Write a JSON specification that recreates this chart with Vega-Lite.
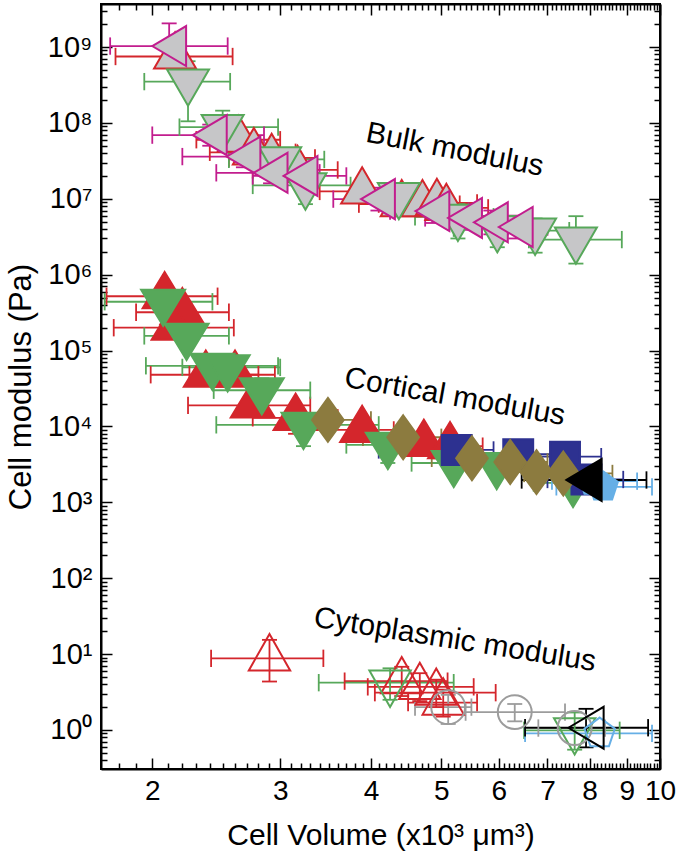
{
"$schema": "https://vega.github.io/schema/vega-lite/v6.json",
"width": 559, "height": 765,
"autosize": {"type": "none"},
"padding": {"left": 101, "top": 4, "right": 17, "bottom": 85},
"background": "white",
"config": {"view": {"stroke": "black", "strokeWidth": 2}, "font": "Liberation Sans"},
"datasets": {
"pts": [
{"s":"bulk_red","x":2.15,"xlo":1.78,"xhi":2.58,"y":7.5e8,"ylo":5.6e8,"yhi":1.0e9},
{"s":"bulk_red","x":2.63,"xlo":2.3,"xhi":3.0,"y":6.0e7,"ylo":4.6e7,"yhi":7.8e7},
{"s":"bulk_red","x":2.76,"xlo":2.4,"xhi":3.15,"y":4.1e7},
{"s":"bulk_red","x":2.92,"xlo":2.55,"xhi":3.35,"y":3.45e7,"ylo":2.6e7,"yhi":4.5e7},
{"s":"bulk_red","x":3.17,"xlo":2.75,"xhi":3.6,"y":2.4e7,"ylo":1.8e7,"yhi":3.1e7},
{"s":"bulk_red","x":3.89,"xlo":3.4,"xhi":4.45,"y":1.25e7,"ylo":9.5e6,"yhi":1.65e7},
{"s":"bulk_red","x":4.41,"xlo":3.85,"xhi":5.0,"y":8.5e6,"ylo":6.5e6,"yhi":1.1e7},
{"s":"bulk_red","x":4.71,"xlo":4.1,"xhi":5.3,"y":8.5e6},
{"s":"bulk_red","x":4.93,"xlo":4.3,"xhi":5.6,"y":8.8e6,"ylo":6.8e6,"yhi":1.15e7},
{"s":"bulk_red","x":5.08,"xlo":4.4,"xhi":5.8,"y":7.6e6},
{"s":"bulk_green","x":2.24,"xlo":1.95,"xhi":2.56,"y":3.5e8,"ylo":1.05e8,"yhi":6.5e8},
{"s":"bulk_green","x":2.50,"xlo":2.18,"xhi":2.98,"y":8.8e7,"ylo":5.5e7,"yhi":1.45e8},
{"s":"bulk_green","x":3.0,"xlo":2.55,"xhi":3.45,"y":3.3e7,"ylo":2.3e7,"yhi":4.5e7},
{"s":"bulk_green","x":3.25,"xlo":2.75,"xhi":3.75,"y":1.5e7,"ylo":8.5e6,"yhi":2.2e7},
{"s":"bulk_green","x":4.37,"xlo":3.8,"xhi":5.0,"y":1.12e7,"ylo":7.5e6,"yhi":1.6e7},
{"s":"bulk_green","x":5.27,"xlo":4.6,"xhi":5.9,"y":5.8e6,"ylo":3.0e6,"yhi":8.5e6},
{"s":"bulk_green","x":5.97,"xlo":5.2,"xhi":6.7,"y":4.1e6,"ylo":2.3e6,"yhi":6.2e6},
{"s":"bulk_green","x":6.73,"xlo":5.9,"xhi":7.5,"y":3.8e6,"ylo":1.95e6,"yhi":5.5e6},
{"s":"bulk_green","x":7.66,"xlo":6.6,"xhi":8.86,"y":2.9e6,"ylo":1.4e6,"yhi":5.9e6},
{"s":"bulk_mag","x":2.11,"xlo":1.75,"xhi":2.54,"y":1.03e9,"ylo":6.5e8,"yhi":2.05e9},
{"s":"bulk_mag","x":2.40,"xlo":2.0,"xhi":2.85,"y":6.9e7,"ylo":5.0e7,"yhi":9.5e7},
{"s":"bulk_mag","x":2.67,"xlo":2.2,"xhi":3.1,"y":3.6e7,"ylo":2.6e7,"yhi":5.0e7},
{"s":"bulk_mag","x":2.91,"xlo":2.45,"xhi":3.4,"y":2.2e7,"ylo":1.6e7,"yhi":3.0e7},
{"s":"bulk_mag","x":3.20,"xlo":2.75,"xhi":3.7,"y":2.0e7,"ylo":1.4e7,"yhi":2.7e7},
{"s":"bulk_mag","x":4.09,"xlo":3.55,"xhi":4.65,"y":9.9e6,"ylo":7.0e6,"yhi":1.4e7},
{"s":"bulk_mag","x":4.86,"xlo":4.25,"xhi":5.45,"y":6.9e6,"ylo":4.8e6,"yhi":9.8e6},
{"s":"bulk_mag","x":5.39,"xlo":4.75,"xhi":6.0,"y":5.6e6,"ylo":3.9e6,"yhi":7.9e6},
{"s":"bulk_mag","x":5.85,"xlo":5.2,"xhi":6.5,"y":4.9e6,"ylo":3.4e6,"yhi":7.0e6},
{"s":"bulk_mag","x":6.33,"xlo":5.65,"xhi":7.0,"y":4.25e6,"ylo":3.0e6,"yhi":6.0e6},
{"s":"cort_red","x":2.08,"xlo":1.73,"xhi":2.46,"y":5.2e5},
{"s":"cort_red","x":2.20,"xlo":1.9,"xhi":2.55,"y":3.2e5},
{"s":"cort_red","x":2.14,"xlo":1.77,"xhi":2.59,"y":2.0e5},
{"s":"cort_red","x":2.37,"xlo":1.99,"xhi":2.8,"y":4.8e4},
{"s":"cort_red","x":2.60,"xlo":2.25,"xhi":2.95,"y":4.8e4},
{"s":"cort_red","x":2.75,"xlo":2.24,"xhi":3.3,"y":1.9e4},
{"s":"cort_red","x":3.15,"xlo":2.75,"xhi":3.6,"y":1.3e4,"ylo":8.0e3,"yhi":1.8e4},
{"s":"cort_red","x":3.89,"xlo":3.5,"xhi":4.3,"y":9.0e3,"ylo":6.5e3,"yhi":1.2e4},
{"s":"cort_red","x":4.73,"xlo":4.2,"xhi":5.2,"y":5.9e3,"ylo":4.3e3,"yhi":8.0e3},
{"s":"cort_red","x":5.14,"xlo":4.6,"xhi":5.7,"y":5.5e3,"ylo":4.0e3,"yhi":7.5e3},
{"s":"cort_green","x":2.07,"xlo":1.72,"xhi":2.42,"y":4.4e5},
{"s":"cort_green","x":2.23,"xlo":1.95,"xhi":2.55,"y":1.56e5},
{"s":"cort_green","x":2.42,"xlo":1.96,"xhi":2.98,"y":6.3e4},
{"s":"cort_green","x":2.54,"xlo":2.2,"xhi":3.0,"y":6.0e4},
{"s":"cort_green","x":2.83,"xlo":2.43,"xhi":3.3,"y":3.0e4,"ylo":1.5e4,"yhi":4.3e4},
{"s":"cort_green","x":3.23,"xlo":2.45,"xhi":4.1,"y":1.05e4,"ylo":5.5e3,"yhi":1.5e4},
{"s":"cort_green","x":4.22,"xlo":3.7,"xhi":4.8,"y":5.7e3,"ylo":3.3e3,"yhi":7.5e3},
{"s":"cort_green","x":5.2,"xlo":4.55,"xhi":5.85,"y":3.3e3,"ylo":2.4e3,"yhi":4.4e3},
{"s":"cort_green","x":5.96,"xlo":5.25,"xhi":6.7,"y":3.1e3,"ylo":2.2e3,"yhi":4.2e3},
{"s":"cort_green","x":7.59,"xlo":6.7,"xhi":8.5,"y":1.8e3,"ylo":1.4e3,"yhi":2.5e3},
{"s":"cort_navy","x":5.25,"xlo":4.1,"xhi":5.9,"y":4.9e3},
{"s":"cort_navy","x":6.38,"xlo":5.6,"xhi":7.2,"y":4.3e3},
{"s":"cort_navy","x":7.40,"xlo":6.5,"xhi":8.3,"y":4.0e3,"ylo":3.0e3,"yhi":5.0e3},
{"s":"cort_navy","x":7.92,"xlo":7.0,"xhi":8.9,"y":2.0e3,"ylo":1.5e3,"yhi":2.6e3},
{"s":"cort_lblue","x":8.1,"xlo":7.1,"xhi":9.3,"y":1.9e3},
{"s":"cort_lblue","x":8.35,"xlo":7.2,"xhi":9.75,"y":1.6e3},
{"s":"cort_olive","x":3.49,"xlo":3.05,"xhi":4.0,"y":1.22e4,"ylo":9.0e3,"yhi":1.55e4},
{"s":"cort_olive","x":4.43,"xlo":3.9,"xhi":5.0,"y":7.2e3,"ylo":5.0e3,"yhi":1.0e4},
{"s":"cort_olive","x":5.51,"xlo":4.85,"xhi":6.2,"y":3.8e3},
{"s":"cort_olive","x":6.22,"xlo":5.5,"xhi":7.0,"y":3.4e3},
{"s":"cort_olive","x":6.76,"xlo":6.0,"xhi":7.6,"y":2.5e3},
{"s":"cort_olive","x":7.36,"xlo":6.5,"xhi":8.6,"y":2.4e3,"ylo":1.8e3,"yhi":3.2e3},
{"s":"cort_black","x":7.86,"xlo":6.45,"xhi":9.58,"y":1.97e3,"ylo":1.45e3,"yhi":2.7e3},
{"s":"cyto_red","x":2.90,"xlo":2.41,"xhi":3.44,"y":8.8,"ylo":4.35,"yhi":15.4},
{"s":"cyto_red","x":4.41,"xlo":3.68,"xhi":5.1,"y":4.4,"ylo":2.8,"yhi":6.8},
{"s":"cyto_red","x":4.67,"xlo":3.96,"xhi":5.54,"y":3.7,"ylo":2.4,"yhi":5.6},
{"s":"cyto_red","x":4.92,"xlo":4.05,"xhi":5.94,"y":3.1,"ylo":2.0,"yhi":4.6},
{"s":"cyto_red","x":5.03,"xlo":4.5,"xhi":5.6,"y":2.3,"ylo":1.5,"yhi":3.4},
{"s":"cyto_green","x":4.25,"xlo":3.39,"xhi":5.2,"y":4.2,"ylo":2.5,"yhi":6.5},
{"s":"cyto_green","x":7.63,"xlo":6.5,"xhi":8.8,"y":0.99,"ylo":0.55,"yhi":1.7},
{"s":"cyto_gray","x":5.11,"xlo":4.6,"xhi":5.5,"y":2.0,"ylo":1.2,"yhi":2.9},
{"s":"cyto_gray","x":6.31,"xlo":5.4,"xhi":7.4,"y":1.72,"ylo":1.3,"yhi":2.2},
{"s":"cyto_gray","x":7.63,"xlo":6.8,"xhi":8.4,"y":1.06},
{"s":"cyto_lblue","x":8.26,"xlo":6.52,"xhi":9.75,"y":0.90},
{"s":"cyto_black","x":7.91,"xlo":6.52,"xhi":9.63,"y":1.07,"ylo":0.59,"yhi":1.9}
]
},
"resolve": {"axis": {"x": "independent", "y": "independent"}},
"layer": [
{
"data": {"name": "pts"},
"mark": {"type": "rule", "strokeWidth": 1.8},
"encoding": {
"x": {"field": "xlo", "type": "quantitative",
 "scale": {"type": "log", "domain": [1.70, 10], "nice": false},
 "axis": {"orient": "bottom", "grid": false,
  "values": [1.8,1.9,2,2.1,2.2,2.3,2.4,2.5,2.6,2.7,2.8,2.9,3,3.1,3.2,3.3,3.4,3.5,3.6,3.7,3.8,3.9,4,4.1,4.2,4.3,4.4,4.5,4.6,4.7,4.8,4.9,5,5.1,5.2,5.3,5.4,5.5,5.6,5.7,5.8,5.9,6,6.1,6.2,6.3,6.4,6.5,6.6,6.7,6.8,6.9,7,7.1,7.2,7.3,7.4,7.5,7.6,7.7,7.8,7.9,8,8.1,8.2,8.3,8.4,8.5,8.6,8.7,8.8,8.9,9,9.1,9.2,9.3,9.4,9.5,9.6,9.7,9.8,9.9,10],
  "labelExpr": "abs(datum.value - round(datum.value)) < 0.001 ? format(datum.value, 'd') : ''",
  "tickSize": {"condition": {"test": "abs(datum.value - round(datum.value)) < 0.001", "value": -11}, "value": -6},
  "tickColor": "black", "tickWidth": 1.5,
  "domainColor": "black", "domainWidth": 2,
  "labelFont": "Liberation Sans", "labelFontSize": 28, "labelColor": "black", "labelPadding": 19,
  "labelOverlap": false, "labelFlush": false, "labelBound": false,
  "title": "Cell Volume (x10³ μm³)", "titleFont": "Liberation Sans", "titleFontSize": 30, "titleFontWeight": "normal", "titleColor": "black", "titlePadding": 10}},
"x2": {"field": "xhi"},
"y": {"field": "y", "type": "quantitative",
 "scale": {"type": "log", "domain": [0.306, 3.69e9], "nice": false},
 "axis": {"orient": "left", "grid": false,
  "values": [0.4,0.5,0.6,0.7,0.8,0.9,1,2,3,4,5,6,7,8,9,10,20,30,40,50,60,70,80,90,100,200,300,400,500,600,700,800,900,1000,2000,3000,4000,5000,6000,7000,8000,9000,1e4,2e4,3e4,4e4,5e4,6e4,7e4,8e4,9e4,1e5,2e5,3e5,4e5,5e5,6e5,7e5,8e5,9e5,1e6,2e6,3e6,4e6,5e6,6e6,7e6,8e6,9e6,1e7,2e7,3e7,4e7,5e7,6e7,7e7,8e7,9e7,1e8,2e8,3e8,4e8,5e8,6e8,7e8,8e8,9e8,1e9,2e9,3e9],
  "labelExpr": "abs(log(datum.value)/LN10 - round(log(datum.value)/LN10)) < 0.001 ? '10' + ['⁰','¹','²','³','⁴','⁵','⁶','⁷','⁸','⁹'][round(log(datum.value)/LN10)] : ''",
  "tickSize": {"condition": {"test": "abs(log(datum.value)/LN10 - round(log(datum.value)/LN10)) < 0.001", "value": -11}, "value": -6},
  "tickColor": "black", "tickWidth": 1.5,
  "domainColor": "black", "domainWidth": 2,
  "labelFont": "Liberation Sans", "labelFontSize": 29, "labelColor": "black", "labelPadding": 20,
  "labelOverlap": false, "labelFlush": false, "labelBound": false,
  "title": "Cell modulus (Pa)", "titleFont": "Liberation Sans", "titleFontSize": 31, "titleFontWeight": "normal", "titleColor": "black", "titlePadding": 10}},
"stroke": {"field": "s", "type": "nominal", "legend": null,
 "scale": {"domain": ["bulk_red","bulk_green","bulk_mag","cort_red","cort_green","cort_navy","cort_lblue","cort_olive","cort_black","cyto_red","cyto_green","cyto_gray","cyto_lblue","cyto_black"],
  "range": ["#d4262c","#57a85a","#c21d8e","#d4262c","#57a85a","#2d3190","#66afe6","#8c7b3f","#000000","#d4262c","#57a85a","#9c9c9c","#66afe6","#000000"]}}
}
},
{
"data": {"name": "pts"},
"mark": {"type": "rule", "strokeWidth": 1.8},
"encoding": {
"x": {"field": "x", "type": "quantitative",
 "axis": {"orient": "top", "grid": false, "labels": false, "title": null,
  "values": [1.8,1.9,2,2.1,2.2,2.3,2.4,2.5,2.6,2.7,2.8,2.9,3,3.1,3.2,3.3,3.4,3.5,3.6,3.7,3.8,3.9,4,4.1,4.2,4.3,4.4,4.5,4.6,4.7,4.8,4.9,5,5.1,5.2,5.3,5.4,5.5,5.6,5.7,5.8,5.9,6,6.1,6.2,6.3,6.4,6.5,6.6,6.7,6.8,6.9,7,7.1,7.2,7.3,7.4,7.5,7.6,7.7,7.8,7.9,8,8.1,8.2,8.3,8.4,8.5,8.6,8.7,8.8,8.9,9,9.1,9.2,9.3,9.4,9.5,9.6,9.7,9.8,9.9,10],
  "tickSize": {"condition": {"test": "abs(datum.value - round(datum.value)) < 0.001", "value": -11}, "value": -6},
  "tickColor": "black", "tickWidth": 1.5, "domainColor": "black", "domainWidth": 2}},
"y": {"field": "ylo", "type": "quantitative",
 "axis": {"orient": "right", "grid": false, "labels": false, "title": null,
  "values": [0.4,0.5,0.6,0.7,0.8,0.9,1,2,3,4,5,6,7,8,9,10,20,30,40,50,60,70,80,90,100,200,300,400,500,600,700,800,900,1000,2000,3000,4000,5000,6000,7000,8000,9000,1e4,2e4,3e4,4e4,5e4,6e4,7e4,8e4,9e4,1e5,2e5,3e5,4e5,5e5,6e5,7e5,8e5,9e5,1e6,2e6,3e6,4e6,5e6,6e6,7e6,8e6,9e6,1e7,2e7,3e7,4e7,5e7,6e7,7e7,8e7,9e7,1e8,2e8,3e8,4e8,5e8,6e8,7e8,8e8,9e8,1e9,2e9,3e9],
  "tickSize": {"condition": {"test": "abs(log(datum.value)/LN10 - round(log(datum.value)/LN10)) < 0.001", "value": -11}, "value": -6},
  "tickColor": "black", "tickWidth": 1.5, "domainColor": "black", "domainWidth": 2}},
"y2": {"field": "yhi"},
"stroke": {"field": "s", "type": "nominal", "legend": null}
}
},
{
"data": {"name": "pts"},
"mark": {"type": "point", "shape": "M0,-1L0,1", "size": 300, "filled": false, "strokeWidth": 1.8, "opacity": 1},
"encoding": {
"x": {"field": "xlo", "type": "quantitative", "axis": null},
"y": {"field": "y", "type": "quantitative", "axis": null},
"stroke": {"field": "s", "type": "nominal", "legend": null}
}
},
{
"data": {"name": "pts"},
"mark": {"type": "point", "shape": "M0,-1L0,1", "size": 300, "filled": false, "strokeWidth": 1.8, "opacity": 1},
"encoding": {
"x": {"field": "xhi", "type": "quantitative", "axis": null},
"y": {"field": "y", "type": "quantitative", "axis": null},
"stroke": {"field": "s", "type": "nominal", "legend": null}
}
},
{
"data": {"name": "pts"},
"mark": {"type": "point", "shape": "M-1,0L1,0", "size": 225, "filled": false, "strokeWidth": 1.8, "opacity": 1},
"encoding": {
"x": {"field": "x", "type": "quantitative", "axis": null},
"y": {"field": "ylo", "type": "quantitative", "axis": null},
"stroke": {"field": "s", "type": "nominal", "legend": null}
}
},
{
"data": {"name": "pts"},
"mark": {"type": "point", "shape": "M-1,0L1,0", "size": 225, "filled": false, "strokeWidth": 1.8, "opacity": 1},
"encoding": {
"x": {"field": "x", "type": "quantitative", "axis": null},
"y": {"field": "yhi", "type": "quantitative", "axis": null},
"stroke": {"field": "s", "type": "nominal", "legend": null}
}
},
{
"data": {"name": "pts"},
"mark": {"type": "point", "size": 1936, "filled": true, "strokeWidth": 2, "opacity": 1, "fillOpacity": 1, "strokeOpacity": 1},
"encoding": {
"x": {"field": "x", "type": "quantitative", "axis": null},
"y": {"field": "y", "type": "quantitative", "axis": null},
"stroke": {"field": "s", "type": "nominal", "legend": null},
"fill": {"field": "s", "type": "nominal", "legend": null,
 "scale": {"domain": ["bulk_red","bulk_green","bulk_mag","cort_red","cort_green","cort_navy","cort_lblue","cort_olive","cort_black","cyto_red","cyto_green","cyto_gray","cyto_lblue","cyto_black"],
  "range": ["#c6c6c8","#c6c6c8","#c6c6c8","#d4262c","#57a85a","#2d3190","#66afe6","#8c7b3f","#000000","transparent","transparent","transparent","transparent","transparent"]}},
"shape": {"field": "s", "type": "nominal", "legend": null,
 "scale": {"domain": ["bulk_red","bulk_green","bulk_mag","cort_red","cort_green","cort_navy","cort_lblue","cort_olive","cort_black","cyto_red","cyto_green","cyto_gray","cyto_lblue","cyto_black"],
  "range": ["M0,-1.1L0.955,0.55L-0.955,0.55Z","M0,1.1L0.955,-0.55L-0.955,-0.55Z","M-0.77,0L0.77,-0.91L0.77,0.91Z","M0,-1.1L1,0.55L-1,0.55Z","M0,1.1L1,-0.55L-1,-0.55Z","M-0.68,-0.68L0.68,-0.68L0.68,0.68L-0.68,0.68Z","M0,-0.7L0.67,-0.22L0.41,0.57L-0.41,0.57L-0.67,-0.22Z","M0,-1L0.72,0L0,1L-0.72,0Z","M-0.8,0L0.8,-0.95L0.8,0.95Z","M0,-1.1L0.94,0.55L-0.94,0.55Z","M0,1.1L0.94,-0.55L-0.94,-0.55Z","M-0.77,0A0.77,0.77 0 1,0 0.77,0A0.77,0.77 0 1,0 -0.77,0Z","M0,-0.72L0.69,-0.22L0.42,0.58L-0.42,0.58L-0.69,-0.22Z","M-0.8,0L0.8,-0.95L0.8,0.95Z"]}}
}
},
{
"data": {"values": [{"label": "Bulk modulus", "x": 5.22, "y": 4.4e7}]},
"mark": {"type": "text", "angle": 11, "fontSize": 30, "font": "Liberation Sans", "color": "black", "align": "center", "baseline": "middle"},
"encoding": {"x": {"field": "x", "type": "quantitative", "axis": null}, "y": {"field": "y", "type": "quantitative", "axis": null}, "text": {"field": "label"}}
},
{
"data": {"values": [{"label": "Cortical modulus", "x": 5.22, "y": 2.45e4}]},
"mark": {"type": "text", "angle": 10, "fontSize": 30, "font": "Liberation Sans", "color": "black", "align": "center", "baseline": "middle"},
"encoding": {"x": {"field": "x", "type": "quantitative", "axis": null}, "y": {"field": "y", "type": "quantitative", "axis": null}, "text": {"field": "label"}}
},
{
"data": {"values": [{"label": "Cytoplasmic modulus", "x": 5.22, "y": 15.4}]},
"mark": {"type": "text", "angle": 9, "fontSize": 30, "font": "Liberation Sans", "color": "black", "align": "center", "baseline": "middle"},
"encoding": {"x": {"field": "x", "type": "quantitative", "axis": null}, "y": {"field": "y", "type": "quantitative", "axis": null}, "text": {"field": "label"}}
}
]
}
